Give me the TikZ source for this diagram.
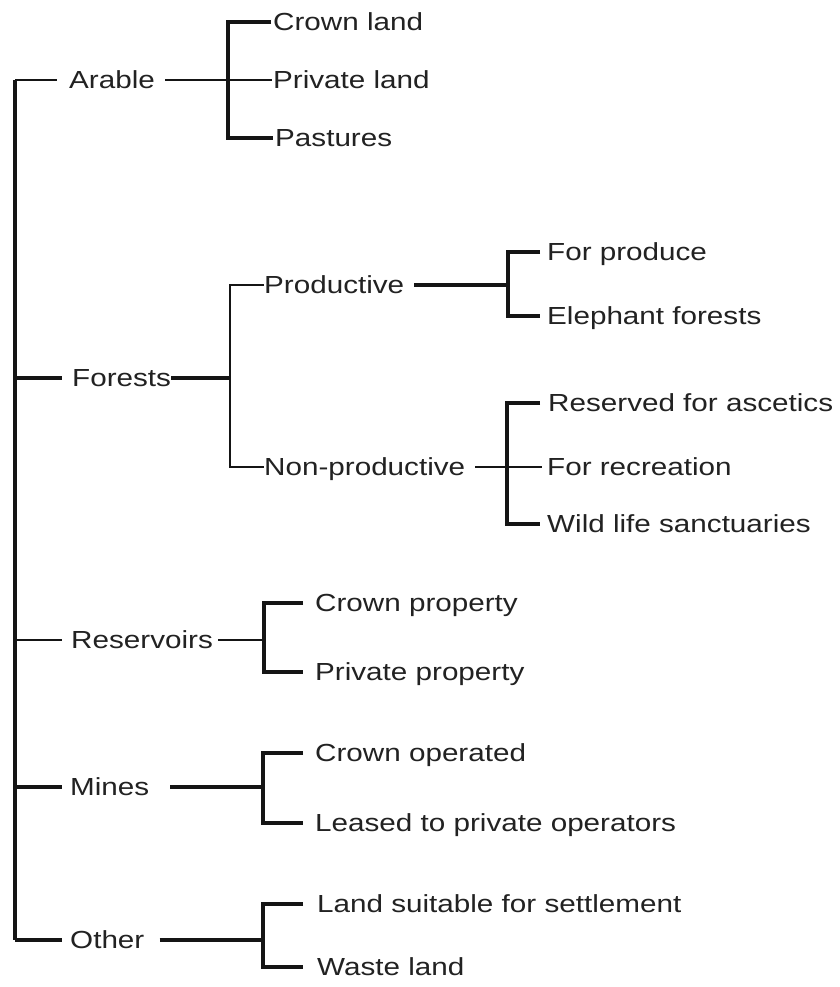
\documentclass[tikz,border=0pt]{standalone}
\usepackage{fontspec}
\newfontfamily\lbfont{Liberation Sans}[FakeStretch=1.2]
\begin{document}
\begin{tikzpicture}[x=1pt,y=-1pt,
  lbl/.style={anchor=west, inner sep=0pt, text height=18pt, text depth=1pt,
              text=txtc, font=\lbfont\fontsize{24.7}{30}\selectfont},
  thk/.style={draw=linec, line width=3.1pt},
  med/.style={draw=linec, line width=2.3pt},
  thn/.style={draw=linec, line width=1.6pt}]
\definecolor{txtc}{HTML}{222222}
\definecolor{linec}{HTML}{151515}
\fill[white] (0,0) rectangle (839,987);
\useasboundingbox (0,0) rectangle (839,987);

% nodes
\node[lbl] (arable) at (69,80) {Arable};
\node[lbl] (crownland) at (273,22) {Crown land};
\node[lbl] (privland) at (273,80) {Private land};
\node[lbl] (pastures) at (275,138) {Pastures};
\node[lbl] (forests) at (72,378) {Forests};
\node[lbl] (productive) at (264,285) {Productive};
\node[lbl] (nonprod) at (264,467) {Non-productive};
\node[lbl] (produce) at (547,252) {For produce};
\node[lbl] (elephant) at (547,316) {Elephant forests};
\node[lbl] (ascetics) at (548,403) {Reserved for ascetics};
\node[lbl] (recreation) at (547,467) {For recreation};
\node[lbl] (wildlife) at (547,524) {Wild life sanctuaries};
\node[lbl] (reservoirs) at (71,640) {Reservoirs};
\node[lbl] (crownprop) at (315,603) {Crown property};
\node[lbl] (privprop) at (315,672) {Private property};
\node[lbl] (mines) at (70,787) {Mines};
\node[lbl] (crownop) at (315,753) {Crown operated};
\node[lbl] (leased) at (315,823) {Leased to private operators};
\node[lbl] (other) at (70,940) {Other};
\node[lbl] (settle) at (317,904) {Land suitable for settlement};
\node[lbl] (waste) at (317,967) {Waste land};

% coordinates
\coordinate (s0) at (15,80);
\coordinate (s1) at (15,940);
\coordinate (abt) at (228,22);
\coordinate (abb) at (228,138);
\coordinate (fb) at (230,378);
\coordinate (fbt) at (230,285);
\coordinate (fbb) at (230,467);
\coordinate (pb) at (508,285);
\coordinate (pbt) at (508,252);
\coordinate (pbb) at (508,316);
\coordinate (nbt) at (507,403);
\coordinate (nbb) at (507,524);
\coordinate (rb) at (264,640);
\coordinate (rbt) at (264,603);
\coordinate (rbb) at (264,672);
\coordinate (mb) at (263,787);
\coordinate (mbt) at (263,753);
\coordinate (mbb) at (263,823);
\coordinate (ob) at (263,940);
\coordinate (obt) at (263,904);
\coordinate (obb) at (263,967);

% spine
\draw[thk] (s0) -- (s1);

% Arable
\draw[thn, shorten >=12pt] (s0) -- (arable.west);
\draw[thn, shorten <=10pt, shorten >=1pt] (arable.east) -- (privland.west);
\draw[thk, shorten <=2pt, shorten >=2pt] (crownland.west) -- (abt) -- (abb) -- (pastures.west);

% Forests
\draw[thk, shorten >=10pt] (s0 |- forests.west) -- (forests.west);
\draw[thk] (forests.east) -- (fb);
\draw[med] (productive.west) -- (fbt) -- (fbb) -- (nonprod.west);
\draw[thk, shorten <=10pt] (productive.east) -- (pb);
\draw[thk, shorten <=7pt, shorten >=7pt] (produce.west) -- (pbt) -- (pbb) -- (elephant.west);
\draw[thn, shorten <=10pt, shorten >=5pt] (nonprod.east) -- (recreation.west);
\draw[thk, shorten <=8pt, shorten >=7pt] (ascetics.west) -- (nbt) -- (nbb) -- (wildlife.west);

% Reservoirs
\draw[thn, shorten >=9pt] (s0 |- reservoirs.west) -- (reservoirs.west);
\draw[thn, shorten <=5pt] (reservoirs.east) -- (rb);
\draw[thk, shorten <=12pt, shorten >=12pt] (crownprop.west) -- (rbt) -- (rbb) -- (privprop.west);

% Mines
\draw[thk, shorten >=8pt] (s0 |- mines.west) -- (mines.west);
\draw[thk, shorten <=21pt] (mines.east) -- (mb);
\draw[thk, shorten <=12pt, shorten >=12pt] (crownop.west) -- (mbt) -- (mbb) -- (leased.west);

% Other
\draw[thk, shorten >=8pt] (s1) -- (other.west);
\draw[thk, shorten <=15pt] (other.east) -- (ob);
\draw[thk, shorten <=14pt, shorten >=14pt] (settle.west) -- (obt) -- (obb) -- (waste.west);
\end{tikzpicture}
\end{document}
